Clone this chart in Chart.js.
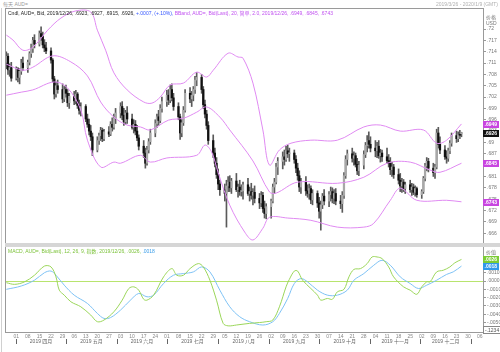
<!DOCTYPE html>
<html>
<head>
<meta charset="utf-8">
<script src="https://cdn.jsdelivr.net/npm/chart.js@4.4.1/dist/chart.umd.min.js"></script>
<style>
  body { margin:0; width:500px; height:352px; background:#fff; position:relative; overflow:hidden;
         font-family:"Liberation Sans","Noto Sans CJK SC",sans-serif; }
  canvas { position:absolute; left:0; }
  #mainChart { top:9px; }
  #macdChart { top:247px; }
  .txt { position:absolute; font-size:5px; line-height:6px; white-space:nowrap; }
  .ln { position:absolute; background:#9a9a9a; }
</style>
</head>
<body>
<div class="ln" style="left:1px;top:8px;width:1px;height:344px;background:#d0d0d0"></div>
<div class="ln" style="left:5px;top:8px;width:479px;height:1px"></div>
<div class="ln" style="left:5px;top:8px;width:1px;height:325px"></div>
<div class="ln" style="left:483px;top:8px;width:1px;height:325px"></div>
<div class="ln" style="left:5px;top:243px;width:495px;height:4px;background:#d6d6d6"></div>
<div class="ln" style="left:5px;top:332px;width:479px;height:1px"></div>

<canvas id="mainChart" width="500" height="234"></canvas>
<canvas id="macdChart" width="500" height="105"></canvas>

<div class="txt" style="left:3px;top:1px;color:#999">每天 AUD=</div>
<div class="txt" style="right:2px;top:1px;color:#b0b0b0">2019/3/26 - 2020/1/9 (GMT)</div>
<div class="txt" style="left:8px;top:10px;color:#222">Cndl, AUD=, Bid, 2019/12/26, .6923, .6927, .6915, .6926, <span style="color:#3355ff">+.0007, (+.10%),</span> <span style="color:#c050f0">BBand, AUD=, Bid(Last), 20, 简单, 2.0, 2019/12/26, .6949, .6845, .6743</span></div>
<div class="txt" style="left:8px;top:248px;color:#7cc23a">MACD, AUD=, Bid(Last), 12, 26, 9, 指数, 2019/12/26, .0026, <span style="color:#3a9de8">.0018</span></div>
<div class="txt" style="left:486px;top:14px;color:#777">价格</div>
<div class="txt" style="left:486px;top:20px;color:#777">USD</div>
<div class="txt" style="left:486px;top:249px;color:#777">价值</div>
<div class="txt" style="left:483px;top:326px;color:#555;border:1px solid #888;padding:0 1px;background:#fff">-.1234</div>

<script>
// prices x 1e-4, one candle per weekday from 2019-03-26
const opens = [
  7112,7128,7092,7098,7070,7095,7072,7088,7110,7098, 7112,7135,7148,7170,7160,7188,7180,7158,7150,7142,
  7118,7068,7028,7050,7040,7015,7040,7030,7005,7022, 7010,7028,6998,6985,6995,6962,6948,6930,6915,6880,
  6905,6918,6932,6910,6928,6922,6948,6940,6965,6978, 6995,6972,6955,6978,6962,6940,6948,6930,6912,6890,
  6872,6845,6880,6902,6925,6950,6968,6958,6990,7008, 7025,7012,7040,7018,6995,6968,6925,6952,6985,7030,
  7015,7025,7040,7065,7072,7040,7000,6975,6945,6905, 6872,6845,6815,6790,6775,6765,6785,6795,6780,6798,
  6775,6782,6770,6772,6788,6765,6770,6760,6768,6752, 6740,6760,6725,6712,6730,6745,6782,6795,6835,6850,
  6862,6855,6878,6870,6872,6855,6832,6812,6782,6795, 6772,6765,6778,6748,6765,6740,6718,6735,6758,6745,
  6762,6770,6752,6765,6745,6738,6760,6812,6855,6870, 6858,6865,6842,6825,6840,6868,6892,6905,6895,6885,
  6878,6890,6865,6872,6862,6852,6845,6828,6835,6815, 6800,6785,6795,6778,6788,6775,6782,6768,6778,6762,
  6770,6805,6838,6850,6832,6820,6835,6925,6895,6880, 6862,6858,6878,6898,6918,6910,6920,6923
];
const highs = [
  7140,7135,7108,7112,7100,7098,7095,7120,7126,7118, 7140,7160,7178,7185,7195,7206,7192,7172,7165,7150,
  7122,7075,7060,7065,7055,7048,7052,7040,7030,7035, 7038,7032,7012,7005,7000,6975,6962,6945,6925,6915,
  6925,6940,6938,6935,6942,6955,6965,6975,6990,7005, 7008,6990,6985,6995,6975,6960,6958,6945,6920,6905,
  6885,6890,6910,6935,6960,6975,6985,7000,7020,7038, 7040,7052,7055,7030,7005,6975,6960,6995,7040,7045,
  7035,7048,7075,7085,7080,7048,7012,6985,6955,6920, 6885,6860,6830,6800,6790,6800,6810,6812,6805,6818,
  6790,6800,6788,6795,6805,6782,6792,6778,6785,6765, 6770,6768,6745,6738,6750,6790,6805,6845,6860,6875,
  6880,6890,6893,6885,6880,6865,6845,6825,6805,6810, 6788,6790,6785,6775,6772,6755,6745,6765,6775,6770,
  6782,6780,6775,6778,6760,6770,6820,6865,6880,6885, 6875,6872,6858,6850,6878,6900,6918,6928,6915,6905,
  6900,6905,6882,6880,6885,6868,6860,6848,6842,6830, 6818,6805,6802,6795,6800,6792,6790,6785,6782,6775,
  6810,6845,6860,6858,6845,6842,6935,6940,6915,6892, 6878,6885,6905,6925,6930,6928,6932,6927
];
const lows = [
  7095,7080,7075,7062,7065,7060,7055,7080,7090,7085, 7105,7125,7138,7150,7155,7170,7150,7140,7135,7110,
  7060,7015,7020,7030,7005,7008,7020,6995,6990,7000, 7002,6990,6975,6970,6955,6940,6920,6905,6865,6875,
  6895,6905,6902,6905,6915,6918,6930,6935,6950,6965, 6960,6945,6948,6950,6935,6925,6920,6905,6880,6860,
  6832,6840,6872,6895,6915,6940,6945,6952,6980,6995, 7000,7005,7010,6985,6960,6908,6915,6945,6980,7005,
  6995,7010,7030,7050,7030,6990,6965,6935,6895,6860, 6835,6805,6775,6760,6745,6676,6770,6770,6765,6770,
  6755,6760,6758,6750,6760,6745,6750,6735,6740,6725, 6730,6715,6700,6698,6700,6740,6765,6790,6815,6830,
  6840,6850,6860,6850,6845,6820,6800,6770,6765,6760, 6755,6750,6738,6735,6728,6700,6668,6725,6735,6730,
  6745,6740,6738,6735,6725,6715,6752,6805,6840,6848, 6840,6835,6815,6812,6830,6860,6875,6885,6875,6862,
  6860,6858,6848,6850,6845,6835,6815,6810,6805,6790, 6770,6768,6770,6765,6768,6760,6762,6758,6755,6752,
  6765,6798,6825,6822,6810,6805,6830,6885,6870,6855, 6845,6850,6870,6890,6900,6902,6910,6915
];
const closes = [
  7128,7092,7098,7070,7095,7072,7088,7110,7098,7112, 7135,7148,7170,7160,7188,7180,7158,7150,7142,7118,
  7068,7028,7050,7040,7015,7040,7030,7005,7022,7010, 7028,6998,6985,6995,6962,6948,6930,6915,6880,6905,
  6918,6932,6910,6928,6922,6948,6940,6965,6978,6995, 6972,6955,6978,6962,6940,6948,6930,6912,6890,6872,
  6845,6880,6902,6925,6950,6968,6958,6990,7008,7025, 7012,7040,7018,6995,6968,6925,6952,6985,7030,7015,
  7025,7040,7065,7072,7040,7000,6975,6945,6905,6872, 6845,6815,6790,6775,6765,6785,6795,6780,6798,6775,
  6782,6770,6772,6788,6765,6770,6760,6768,6752,6740, 6760,6725,6712,6730,6745,6782,6795,6835,6850,6862,
  6855,6878,6870,6872,6855,6832,6812,6782,6795,6772, 6765,6778,6748,6765,6740,6718,6735,6758,6745,6762,
  6770,6752,6765,6745,6738,6760,6812,6855,6870,6858, 6865,6842,6825,6840,6868,6892,6905,6895,6885,6878,
  6890,6865,6872,6862,6852,6845,6828,6835,6815,6800, 6785,6795,6778,6788,6775,6782,6768,6778,6762,6770,
  6805,6838,6850,6832,6820,6835,6925,6895,6880,6862, 6858,6878,6898,6918,6910,6920,6919,6926
];

// Bollinger(20, 2.0): [day since 2019-03-26, price x 1e-4]
const bbUpper = [[0,7184],[4,7171],[10,7144],[16,7152],[25,7197],[33,7229],[42,7248],[51,7245],[55,7197],[60,7144],
  [65,7084],[73,7039],[83,7007],[88,7004],[93,7020],[99,7052],[107,7057],[115,7086],[121,7073],[125,7091],
  [134,7136],[140,7126],[143,7123],[149,7057],[155,6933],[159,6840],[165,6880],[172,6898],[184,6906],[200,6906],
  [216,6941],[226,6946],[238,6930],[252,6933],[260,6898],[266,6906],[275,6949]];
const bbMiddle = [[0,7107],[10,7091],[16,7099],[28,7129],[39,7113],[49,7076],[57,7007],[65,6967],[73,6946],[81,6941],
  [87,6933],[98,6959],[107,6964],[115,6980],[121,6994],[129,6967],[135,6933],[149,6851],[159,6769],[163,6766],
  [176,6795],[200,6792],[216,6808],[230,6845],[244,6848],[256,6827],[262,6821],[275,6845]];
const bbLower = [[0,7025],[9,7033],[16,7039],[29,7060],[37,7044],[45,6986],[49,6906],[57,6835],[65,6848],[69,6845],
  [81,6866],[87,6848],[97,6859],[115,6866],[120,6893],[124,6875],[128,6820],[135,6734],[144,6663],[149,6642],
  [155,6673],[159,6702],[170,6700],[184,6694],[200,6676],[216,6676],[222,6686],[232,6747],[238,6779],[248,6747],
  [266,6747],[275,6743]];

// MACD(12,26,9): [day, value x 1e-4]
const macdLine = [[0,-2],[5,-4],[11,-1],[17,7],[23,18],[27,17],[30,5],[32,-11],[35,-17],[39,-25],[45,-31],[51,-41],
  [55,-49],[59,-47],[65,-37],[70,-23],[74,-9],[77,-7],[80,-11],[83,-22],[85,-23],[89,-17],[95,5],[100,15],
  [103,7],[107,7],[111,15],[116,21],[119,17],[123,1],[127,-23],[131,-51],[134,-54],[139,-53],[147,-51],
  [153,-50],[157,-49],[161,-47],[165,-31],[169,-7],[171,2],[174,12],[176,12],[179,1],[184,-9],[188,-17],
  [190,-23],[194,-21],[197,-22],[200,-13],[204,-10],[207,5],[210,14],[214,15],[218,21],[221,29],[224,29],
  [227,27],[231,17],[234,5],[240,-7],[244,-11],[248,-16],[251,-7],[254,-1],[256,-1],[260,11],[264,13],
  [268,17],[271,22],[275,26]];
const signalLine = [[0,-10],[9,-6],[17,1],[23,10],[27,12],[30,7],[35,-5],[41,-17],[49,-27],[55,-39],[59,-45],
  [63,-44],[69,-35],[75,-23],[80,-15],[85,-19],[89,-17],[95,-3],[101,7],[107,9],[113,11],[118,17],[123,11],
  [129,-11],[135,-31],[141,-43],[147,-49],[155,-53],[161,-49],[165,-39],[170,-21],[174,-3],[178,3],[182,-1],
  [188,-11],[194,-17],[200,-17],[206,-11],[210,1],[216,9],[222,19],[227,25],[232,19],[238,5],[244,-3],
  [249,-9],[254,-5],[260,1],[266,8],[270,11],[275,18]];

// axes
const priceTicks = [0.72,0.717,0.714,0.711,0.708,0.705,0.702,0.699,0.696,0.693,0.69,0.687,0.684,0.681,0.678,0.675,0.672,0.669,0.666];
const macdTicks = [0.001,0,-0.001,-0.002,-0.003,-0.004,-0.005];
const dayLabels = ["01","08","15","22","29","06","13","20","27","03","10","17","24","01","08","15","22","29",
  "05","12","19","26","02","09","16","23","30","07","14","21","28","04","11","18","25","02","09","16","23","30","06"];
const firstMonday = 6; // 2019-04-01
const monthLabels = ["2019 四月","2019 五月","2019 六月","2019 七月","2019 八月","2019 九月","2019 十月","2019 十一月","2019 十二月"];
const monthStarts = [6,36,67,97,128,159,189,220,250,281];

const START = Date.UTC(2019, 2, 26), DAY = 864e5;
const barDays = [];
for (let d = 0; barDays.length < closes.length; d++) {
  const wd = new Date(START + d * DAY).getUTCDay();
  if (wd !== 0 && wd !== 6) barDays.push(d);
}

const X_MIN = -0.2, X_MAX = 288;
const FONT = "Liberation Sans, Noto Sans CJK SC, sans-serif";
const BAND = "#e08af2";

function tagPlugin(items) {
  return {
    id: "tags",
    afterDraw(chart) {
      const ctx = chart.ctx, y = chart.scales.y, x0 = chart.chartArea.right;
      ctx.save();
      ctx.font = "bold 5px " + FONT;
      ctx.textBaseline = "middle";
      items.forEach(t => {
        const py = Math.round(y.getPixelForValue(t.value));
        ctx.fillStyle = t.bg;
        ctx.fillRect(x0, py - 3, 16, 7);
        ctx.fillStyle = "#fff";
        ctx.fillText(t.text, x0 + 1.5, py + 0.5);
      });
      ctx.restore();
    }
  };
}

const rightAxis = (min, max, ticks, fmtFn, extra) => Object.assign({
  position: "right", min: min, max: max,
  border: { display: false },
  grid: { drawOnChartArea: false, tickLength: 3, tickColor: "#999" },
  ticks: { font: { size: 5, family: FONT }, color: "#777", padding: 1, callback: fmtFn },
  afterBuildTicks: s => { s.ticks = ticks.map(v => ({ value: v })); },
  afterFit: s => { s.width = 17; s.paddingTop = 0; s.paddingBottom = 0; }
}, extra || {});

const toPts = (arr, k) => arr.map(p => ({ x: p[0], y: p[1] / k }));
const line = (data, color) => ({
  type: "line", data: data, borderColor: color, borderWidth: 1,
  pointRadius: 0, tension: 0.35, fill: false
});

// main panel: candles + bollinger
new Chart(document.getElementById("mainChart"), {
  type: "bar",
  data: {
    datasets: [
      line(toPts(bbUpper, 1e4), BAND),
      line(toPts(bbMiddle, 1e4), BAND),
      line(toPts(bbLower, 1e4), BAND),
      {
        data: barDays.map((d, i) => ({ x: d, y: [opens[i] / 1e4, closes[i] / 1e4] })),
        backgroundColor: c => closes[c.dataIndex] >= opens[c.dataIndex] ? "#a8a8a8" : "#111",
        barThickness: 1.6, minBarLength: 1, grouped: false
      },
      {
        data: barDays.map((d, i) => ({ x: d, y: [lows[i] / 1e4, highs[i] / 1e4] })),
        backgroundColor: "#5a5a5a", barThickness: 1, grouped: false
      }
    ]
  },
  options: {
    responsive: false, animation: false, events: [],
    layout: { padding: { left: 6, right: 0, top: 0, bottom: 0 } },
    plugins: { legend: { display: false }, tooltip: { enabled: false } },
    scales: {
      x: { type: "linear", min: X_MIN, max: X_MAX, offset: false, display: false },
      y: rightAxis(0.6634, 0.7253, priceTicks, v => String(+(+v).toFixed(3)).replace("0.", "."))
    }
  },
  plugins: [tagPlugin([
    { value: 0.6949, text: ".6949", bg: "#c845e0" },
    { value: 0.6926, text: ".6926", bg: "#111" },
    { value: 0.6845, text: ".6845", bg: "#c845e0" },
    { value: 0.6743, text: ".6743", bg: "#c845e0" }
  ])]
});

// month labels under the time axis
const monthPlugin = {
  id: "months",
  afterDraw(chart) {
    const ctx = chart.ctx, xs = chart.scales.x, base = chart.chartArea.bottom;
    ctx.save();
    ctx.font = "5px " + FONT;
    ctx.fillStyle = "#666";
    ctx.textAlign = "center";
    ctx.textBaseline = "middle";
    monthStarts.forEach((d, k) => {
      const px = Math.round(xs.getPixelForValue(d));
      ctx.fillRect(px, base + 7, 1, 5);
      if (k < monthLabels.length) {
        const mid = (xs.getPixelForValue(d) + xs.getPixelForValue(monthStarts[k + 1])) / 2;
        ctx.fillText(monthLabels[k], mid, base + 9.5);
      }
    });
    ctx.restore();
  }
};

// MACD panel
new Chart(document.getElementById("macdChart"), {
  type: "line",
  data: {
    datasets: [
      line(toPts(macdLine, 1e4), "#9bd65a"),
      line(toPts(signalLine, 1e4), "#7ec2f5")
    ]
  },
  options: {
    responsive: false, animation: false, events: [],
    layout: { padding: { left: 6, right: 0, top: 0, bottom: 0 } },
    plugins: { legend: { display: false }, tooltip: { enabled: false } },
    scales: {
      x: {
        type: "linear", min: X_MIN, max: X_MAX, offset: false,
        grid: { display: false, drawTicks: false }, border: { display: false },
        ticks: { autoSkip: false, maxRotation: 0, font: { size: 5, family: FONT }, color: "#888", padding: 2,
                 callback: (v, i) => dayLabels[i] },
        afterBuildTicks: s => { s.ticks = dayLabels.map((_, k) => ({ value: firstMonday + 7 * k })); },
        afterFit: s => { s.height = 20; s.paddingLeft = 0; s.paddingRight = 0; }
      },
      y: rightAxis(-0.00614, 0.0041, macdTicks, v => (+v).toFixed(4).replace("0.", "."), {
        grid: {
          drawOnChartArea: true, tickLength: 3, tickColor: "#999",
          color: c => (c.tick && c.tick.value === 0) ? "#b8e46e" : "rgba(0,0,0,0)"
        }
      })
    }
  },
  plugins: [monthPlugin, tagPlugin([
    { value: 0.0026, text: ".0026", bg: "#7ccc35" },
    { value: 0.0018, text: ".0018", bg: "#2f98ea" }
  ])]
});
</script>
</body>
</html>
